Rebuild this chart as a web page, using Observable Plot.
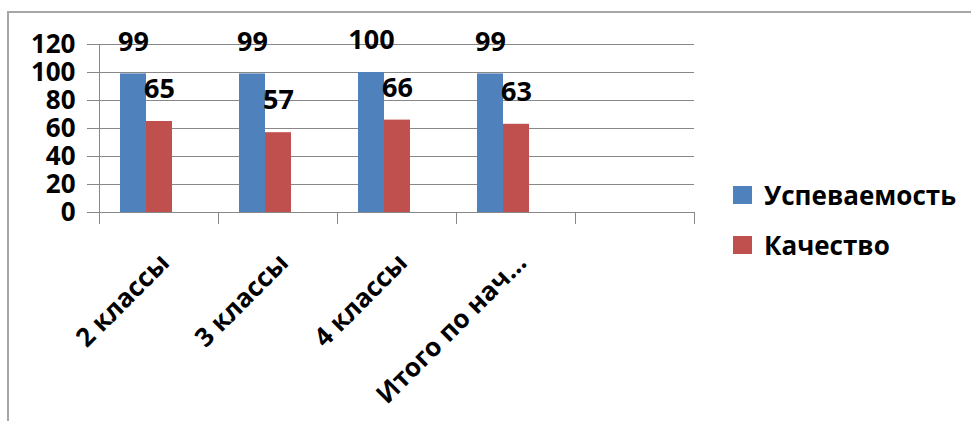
<!DOCTYPE html>
<html><head><meta charset="utf-8">
<script src="https://cdn.jsdelivr.net/npm/d3@7"></script>
<script src="https://cdn.jsdelivr.net/npm/@observablehq/plot@0.6"></script>
<style>
body{margin:0;background:#fff;width:971px;height:421px;overflow:hidden;position:relative;font-family:"Open Sans",sans-serif;}
#frame{position:absolute;left:7px;top:11px;width:1000px;height:500px;border-left:2px solid #a6a6a6;border-top:2px solid #a6a6a6;}
#chart{position:absolute;left:0;top:0;}
#legend{position:absolute;left:733px;top:170px;}
.item{display:flex;align-items:center;height:50px;font-weight:700;font-size:26px;color:#000;}
.sw{width:19px;height:18px;margin-right:12px;flex:none;}
</style></head><body>
<div id="frame"></div><div id="chart"></div><div id="legend"></div>
<script>
const categories = ["2 классы", "3 классы", "4 классы", "Итого по нач…", " "];
const seriesNames = ["Успеваемость", "Качество"];
const uspevaemost = [99, 99, 100, 99];
const kachestvo = [65, 57, 66, 63];
const yTicks = [0, 20, 40, 60, 80, 100, 120];
const colors = ["#4F81BD", "#C0504D"];

const rowsU = uspevaemost.map((v, i) => ({category: categories[i], value: v}));
const rowsK = kachestvo.map((v, i) => ({category: categories[i], value: v}));

const gray = "#888888";
const half = 59.5;

const chart = Plot.plot({
  width: 720,
  height: 421,
  marginLeft: 99,
  marginRight: 26,
  marginTop: 44,
  marginBottom: 209,
  style: {fontFamily: "Open Sans", fontWeight: "700", color: "#000", background: "transparent", overflow: "visible"},
  x: {domain: categories, padding: 0},
  y: {domain: [0, 120]},
  marks: [
    Plot.gridY(yTicks, {stroke: gray, strokeOpacity: 1}),
    Plot.axisY(yTicks, {tickSize: 12, tickPadding: 12, stroke: gray, fill: "#000", fontSize: 26, fontWeight: 700, label: null}),
    Plot.axisX({tickSize: 0, tickRotate: -45, tickPadding: 46, dx: 6, fontSize: 26, fontWeight: 700, fill: "#000", label: null}),
    Plot.barY(rowsU, {x: "category", y: "value", fill: colors[0], insetLeft: 21, insetRight: 72}),
    Plot.barY(rowsK, {x: "category", y: "value", fill: colors[1], insetLeft: 47, insetRight: 46}),
    Plot.ruleY([0], {stroke: gray}),
    Plot.ruleX([categories[0]], {dx: -half, y1: 120, y2: 0, insetBottom: -12, stroke: gray}),
    Plot.ruleX(categories.slice(1), {dx: -half, y1: 0, y2: 0, insetBottom: -12, stroke: gray}),
    Plot.ruleX([categories[categories.length - 1]], {dx: half, y1: 0, y2: 0, insetBottom: -12, stroke: gray}),
    Plot.text(rowsU, {x: "category", y: "value", text: d => String(d.value), dx: -25.5, dy: -32, fontSize: 27, fontWeight: 700, fill: "#000"}),
    Plot.text(rowsK, {x: "category", y: "value", text: d => String(d.value), dx: 0.5, dy: -32, fontSize: 27, fontWeight: 700, fill: "#000"})
  ]
});
document.getElementById("chart").append(chart);

const legend = document.getElementById("legend");
seriesNames.forEach((name, i) => {
  const item = document.createElement("div");
  item.className = "item";
  const sw = document.createElement("span");
  sw.className = "sw";
  sw.style.background = colors[i];
  const label = document.createElement("span");
  label.textContent = name;
  item.append(sw, label);
  legend.append(item);
});
</script>
</body></html>
